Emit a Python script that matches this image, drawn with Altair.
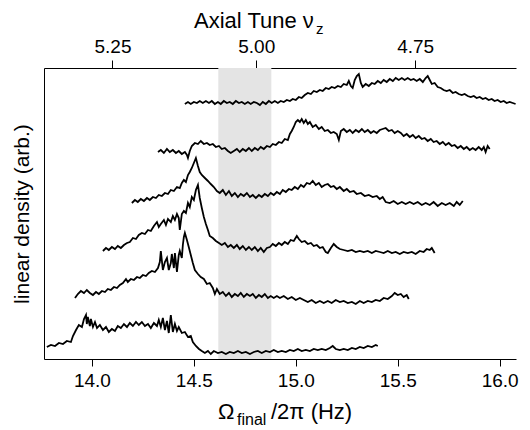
import altair as alt
import pandas as pd

# ---------------- data ----------------
t1_x = [13.779,13.799,13.819,13.838,13.858,13.877,13.897,13.907,13.922,13.936,13.951,13.961,13.971,13.975,13.980,13.990,13.995,14.005,14.015,14.025,14.039,14.054,14.069,14.083,14.098,14.113,14.127,14.142,14.157,14.172,14.186,14.201,14.216,14.230,14.245,14.260,14.275,14.289,14.304,14.319,14.328,14.338,14.348,14.358,14.368,14.377,14.387,14.397,14.407,14.417,14.426,14.441,14.456,14.471,14.485,14.495,14.510,14.525,14.539,14.554,14.569,14.583,14.598,14.618,14.637,14.657,14.676,14.696,14.716,14.735,14.755,14.775,14.794,14.814,14.833,14.853,14.873,14.892,14.912,14.931,14.951,14.971,14.990,15.010,15.029,15.049,15.069,15.088,15.108,15.127,15.147,15.167,15.181,15.196,15.216,15.235,15.255,15.275,15.294,15.314,15.333,15.353,15.373,15.392,15.402]
t1_y = [12,14,13,16,15,18,17,23,29,34,32,40,44,35,42,33,40,32,37,31,34,29,32,27,30,28,33,31,35,32,36,33,37,34,37,33,35,31,36,33,39,32,41,29,38,26,44,27,35,28,32,26,27,22,23,17,13,10,8,6,8,5,8,6,7,5,7,6,8,6,7,5,7,8,6,8,7,9,7,8,7,9,8,10,8,9,8,10,9,10,9,11,13,10,9,10,9,11,10,12,11,13,12,14,13]

t2_x = [13.917,13.931,13.946,13.961,13.975,13.990,14.005,14.020,14.034,14.049,14.064,14.078,14.093,14.108,14.123,14.137,14.152,14.167,14.176,14.191,14.206,14.221,14.235,14.250,14.265,14.279,14.294,14.309,14.324,14.333,14.338,14.348,14.358,14.368,14.377,14.387,14.392,14.402,14.407,14.417,14.426,14.431,14.441,14.446,14.451,14.456,14.466,14.475,14.485,14.495,14.505,14.520,14.534,14.549,14.564,14.578,14.593,14.603,14.613,14.627,14.642,14.657,14.672,14.686,14.701,14.716,14.730,14.745,14.760,14.775,14.789,14.804,14.819,14.833,14.848,14.863,14.877,14.892,14.907,14.922,14.941,14.961,14.980,15.000,15.020,15.039,15.059,15.078,15.098,15.118,15.137,15.157,15.176,15.196,15.216,15.235,15.255,15.275,15.294,15.314,15.333,15.353,15.373,15.392,15.412,15.431,15.451,15.471,15.485,15.500,15.515,15.529,15.544,15.554]
t2_y = [61,65,68,66,69,66,64,67,65,68,67,70,69,72,71,74,76,80,77,80,79,82,81,84,83,86,88,87,91,97,108,89,97,101,89,96,105,91,106,87,104,108,101,114,122,126,119,112,104,96,89,85,82,80,75,76,71,65,70,65,67,63,66,62,65,63,66,62,65,63,65,61,64,62,65,61,63,61,63,61,63,60,62,59,61,59,57,59,56,58,56,58,56,59,57,58,56,57,55,58,56,58,57,59,58,61,60,63,66,64,65,62,64,60]

t3_x = [14.054,14.069,14.083,14.098,14.113,14.127,14.142,14.157,14.172,14.186,14.201,14.216,14.230,14.245,14.260,14.275,14.289,14.304,14.319,14.328,14.338,14.353,14.363,14.373,14.387,14.397,14.407,14.417,14.426,14.431,14.441,14.451,14.461,14.471,14.480,14.490,14.500,14.510,14.520,14.529,14.539,14.549,14.559,14.569,14.578,14.593,14.608,14.623,14.637,14.652,14.667,14.681,14.696,14.711,14.725,14.740,14.755,14.770,14.784,14.799,14.814,14.828,14.843,14.858,14.873,14.887,14.902,14.917,14.931,14.946,14.961,14.975,14.990,15.005,15.015,15.029,15.044,15.059,15.074,15.088,15.103,15.118,15.132,15.147,15.157,15.172,15.186,15.201,15.216,15.235,15.255,15.275,15.294,15.314,15.333,15.353,15.373,15.392,15.412,15.431,15.451,15.471,15.490,15.510,15.529,15.549,15.569,15.588,15.608,15.627,15.642,15.657,15.667,15.681]
t3_y = [108,111,109,112,110,113,111,114,116,117,121,120,124,126,125,129,128,133,137,132,135,139,134,140,137,143,139,145,141,129,145,148,146,156,152,162,159,169,174,161,151,142,135,129,123,121,118,116,114,116,112,114,111,114,110,113,109,112,109,112,108,111,107,111,112,115,113,116,114,117,115,119,118,123,120,117,118,115,116,113,114,111,112,107,106,111,115,112,110,109,108,109,107,108,107,108,106,108,107,106,108,106,107,105,107,106,107,105,108,107,110,109,111,106]

t4_x = [14.196,14.211,14.225,14.240,14.255,14.270,14.284,14.299,14.314,14.328,14.343,14.358,14.373,14.387,14.402,14.417,14.431,14.441,14.451,14.461,14.471,14.480,14.490,14.500,14.510,14.520,14.529,14.539,14.554,14.569,14.583,14.598,14.613,14.627,14.642,14.657,14.672,14.686,14.701,14.716,14.730,14.745,14.760,14.775,14.789,14.804,14.819,14.833,14.848,14.863,14.877,14.892,14.907,14.922,14.936,14.951,14.966,14.980,14.995,15.010,15.025,15.039,15.054,15.069,15.083,15.098,15.113,15.127,15.142,15.157,15.172,15.186,15.201,15.216,15.235,15.250,15.265,15.284,15.299,15.319,15.338,15.358,15.377,15.397,15.412,15.426,15.441,15.461,15.480,15.500,15.520,15.539,15.559,15.578,15.598,15.618,15.637,15.657,15.676,15.696,15.716,15.735,15.755,15.775,15.789,15.804,15.819]
t4_y = [156,159,157,160,158,161,159,162,161,164,163,166,165,169,168,172,171,176,179,177,184,187,191,196,201,193,187,184,181,178,175,172,168,166,169,164,168,163,166,162,165,163,166,162,164,161,164,162,165,163,166,164,167,165,169,167,170,169,172,170,174,172,176,175,178,174,176,172,174,175,172,173,170,172,168,170,167,168,165,166,163,164,162,163,160,162,157,156,158,155,157,155,157,155,157,154,156,154,157,153,156,154,156,153,157,154,158]

t5_x = [14.324,14.338,14.353,14.368,14.382,14.397,14.412,14.426,14.441,14.456,14.466,14.471,14.480,14.490,14.505,14.520,14.534,14.549,14.564,14.578,14.593,14.608,14.623,14.637,14.652,14.667,14.681,14.696,14.711,14.725,14.740,14.755,14.770,14.784,14.799,14.814,14.828,14.843,14.858,14.873,14.887,14.902,14.917,14.931,14.946,14.961,14.971,14.980,14.990,15.000,15.010,15.020,15.029,15.039,15.049,15.059,15.069,15.083,15.098,15.113,15.127,15.142,15.157,15.172,15.186,15.201,15.211,15.221,15.235,15.250,15.265,15.279,15.294,15.309,15.324,15.338,15.353,15.368,15.382,15.397,15.412,15.426,15.441,15.456,15.471,15.485,15.500,15.515,15.529,15.544,15.559,15.574,15.588,15.603,15.618,15.632,15.647,15.662,15.676,15.691,15.706,15.721,15.735,15.750,15.765,15.779,15.794,15.809,15.824,15.838,15.853,15.868,15.882,15.897,15.912,15.922,15.931,15.941,15.951]
t5_y = [207,209,206,210,207,209,206,208,205,207,204,201,208,213,216,215,218,215,216,214,215,212,213,210,211,208,206,208,210,207,210,208,211,208,211,209,212,210,213,212,215,214,217,216,220,219,225,228,232,237,239,237,240,236,239,235,237,232,234,230,232,228,229,226,227,225,219,228,230,227,229,226,229,227,230,227,229,226,228,226,229,230,231,228,229,226,228,226,223,225,222,224,221,223,220,221,218,220,217,218,215,217,214,216,213,214,211,213,210,212,209,211,209,212,209,212,207,213,210]

t6_x = [14.456,14.471,14.485,14.500,14.515,14.529,14.544,14.559,14.574,14.588,14.603,14.618,14.632,14.647,14.662,14.676,14.691,14.706,14.721,14.735,14.750,14.765,14.779,14.794,14.809,14.824,14.838,14.853,14.868,14.882,14.897,14.912,14.926,14.941,14.956,14.971,14.985,15.000,15.015,15.029,15.044,15.059,15.074,15.088,15.103,15.118,15.132,15.147,15.162,15.176,15.191,15.206,15.221,15.235,15.250,15.260,15.270,15.279,15.289,15.299,15.309,15.319,15.328,15.343,15.358,15.373,15.387,15.402,15.417,15.431,15.446,15.461,15.476,15.490,15.505,15.520,15.534,15.549,15.564,15.578,15.593,15.608,15.623,15.637,15.647,15.657,15.667,15.681,15.696,15.711,15.725,15.740,15.755,15.770,15.784,15.799,15.814,15.828,15.843,15.858,15.873,15.887,15.902,15.917,15.931,15.946,15.961,15.975,15.990,16.005,16.020,16.034,16.049,16.064,16.078]
t6_y = [255,257,255,257,256,258,256,258,256,258,255,257,255,258,256,257,255,258,256,257,255,257,255,257,256,254,257,255,258,256,258,256,258,257,259,258,260,259,262,261,264,266,265,268,267,269,268,271,270,272,271,273,272,275,274,278,273,271,279,283,285,276,272,275,273,276,275,278,276,279,277,280,278,281,279,281,279,281,279,280,278,280,277,281,283,279,275,276,272,271,269,268,269,266,267,265,264,265,263,262,263,261,262,260,261,259,260,258,259,257,258,256,257,256,255]

traces = [(t1_x, t1_y), (t2_x, t2_y), (t3_x, t3_y), (t4_x, t4_y), (t5_x, t5_y), (t6_x, t6_y)]

band = [14.62, 14.88]          # shaded region (Hz)
x_ticks = [14.0, 14.5, 15.0, 15.5, 16.0]
tune_ticks = [5.25, 5.00, 4.75]
K = 74.03                       # nu_z * Omega/2pi
x_domain = [13.765, 16.08]
y_domain = [0, 291]

W, H = 472, 291

rows = []
for i, (xs, ys) in enumerate(traces):
    for a, b in zip(xs, ys):
        rows.append({"trace": f"t{i+1}", "x": a, "y": b})
df = pd.DataFrame(rows)
band_df = pd.DataFrame({"lo": [band[0]], "hi": [band[1]]})

FONT = "Liberation Sans"

band_layer = alt.Chart(band_df).mark_rect(color="#e4e4e4").encode(
    x=alt.X("lo:Q", scale=alt.Scale(domain=x_domain, nice=False, zero=False),
            axis=alt.Axis(orient="top", values=[K / t for t in tune_ticks],
                          labelExpr="format(74.03/datum.value, '.2f')",
                          title=None, grid=False, tickSize=8, labelFontSize=19,
                          labelPadding=4, domainColor="black", tickColor="black",
                          labelColor="black", labelFont=FONT)),
    x2="hi:Q",
    y=alt.value(0),
    y2=alt.value(H),
)

lines = alt.Chart(df).mark_line(color="black", strokeWidth=1.8).encode(
    x=alt.X("x:Q", scale=alt.Scale(domain=x_domain, nice=False, zero=False),
            axis=alt.Axis(orient="bottom", values=x_ticks, format=".1f", title=None,
                          grid=False, tickSize=7, labelFontSize=19, labelPadding=5,
                          domainColor="black", tickColor="black", labelColor="black",
                          labelFont=FONT)),
    y=alt.Y("y:Q", scale=alt.Scale(domain=y_domain, nice=False, zero=False),
            axis=alt.Axis(labels=False, ticks=False, grid=False,
                          title="linear density (arb.)", titleFontSize=21,
                          titleFontWeight="normal", titlePadding=12, titleFont=FONT,
                          titleColor="black", domainColor="black")),
    detail="trace:N",
)

def txt(s, x, y, size):
    return alt.Chart(pd.DataFrame({"t": [s]})).mark_text(
        align="left", baseline="alphabetic", fontSize=size, font=FONT, color="black"
    ).encode(x=alt.value(x), y=alt.value(y), text="t:N")

titles = [
    txt("Ω", 174, H + 60, 22),
    txt("final", 193, H + 66, 16),
    txt("/2π  (Hz)", 227, H + 60, 22),
    txt("Axial Tune ν", 150, -40, 22),
    txt("z", 272, -34, 15),
]

chart = alt.layer(band_layer, lines, *titles).resolve_scale(
    x="independent"
).resolve_axis(x="independent").properties(
    width=W, height=H,
    autosize=alt.AutoSizeParams(type="none"),
    padding={"left": 36, "top": 60, "right": 6, "bottom": 70},
).configure_view(stroke=None)

chart.save("out.html", embed_options={"renderer": "svg", "actions": False})
